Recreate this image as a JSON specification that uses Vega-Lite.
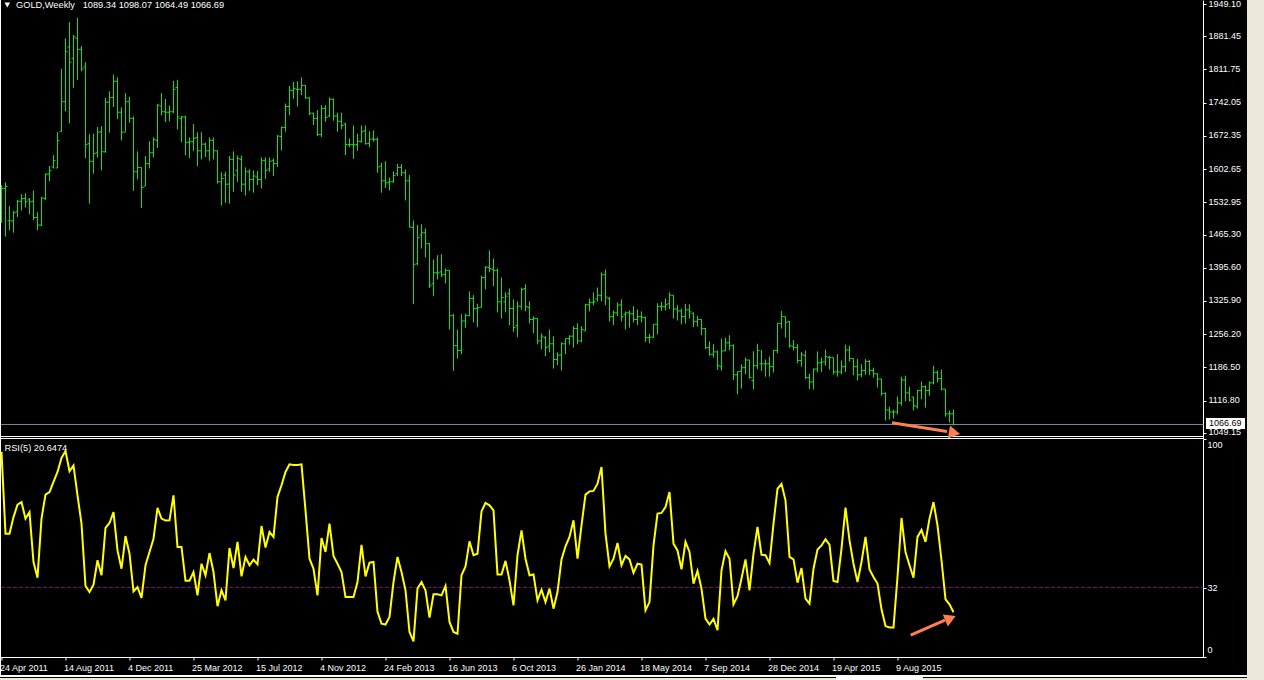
{"$schema":"https://vega.github.io/schema/vega-lite/v6.json","width":1264,"height":680,"autosize":{"type":"none"},"padding":0,"background":"#000000","config":{"view":{"stroke":null},"timeFormat":"%-d %b %Y","text":{"font":"Liberation Sans","fontSize":9}},"datasets":{"bars":[
{"d":"2011-04-24","o":1510,"h":1569,"l":1490,"c":1562,"r":94.2},{"d":"2011-05-01","o":1562,"h":1575,"l":1461,"c":1566,"r":56.7},{"d":"2011-05-08","o":1494,"h":1525,"l":1474,"c":1494,"r":56.7},{"d":"2011-05-15","o":1494,"h":1515,"l":1469,"c":1511,"r":64.3},{"d":"2011-05-22","o":1513,"h":1538,"l":1502,"c":1535,"r":70.0},{"d":"2011-05-29","o":1535,"h":1550,"l":1516,"c":1541,"r":71.2},{"d":"2011-06-05","o":1541,"h":1552,"l":1522,"c":1534,"r":63.6},{"d":"2011-06-12","o":1538,"h":1542,"l":1508,"c":1534,"r":66.6},{"d":"2011-06-19","o":1535,"h":1558,"l":1495,"c":1501,"r":43.7},{"d":"2011-06-26","o":1501,"h":1512,"l":1474,"c":1485,"r":36.5},
{"d":"2011-07-03","o":1485,"h":1544,"l":1483,"c":1542,"r":63.6},{"d":"2011-07-10","o":1541,"h":1594,"l":1538,"c":1592,"r":74.6},{"d":"2011-07-17","o":1592,"h":1609,"l":1577,"c":1600,"r":75.8},{"d":"2011-07-24","o":1607,"h":1632,"l":1604,"c":1621,"r":80.4},{"d":"2011-07-31","o":1605,"h":1680,"l":1605,"c":1663,"r":85.0},{"d":"2011-08-07","o":1681,"h":1813,"l":1681,"c":1744,"r":91.4},{"d":"2011-08-14","o":1744,"h":1877,"l":1724,"c":1849,"r":94.6},{"d":"2011-08-21","o":1859,"h":1911,"l":1699,"c":1827,"r":85.3},{"d":"2011-08-28","o":1835,"h":1884,"l":1773,"c":1880,"r":88.0},{"d":"2011-09-04","o":1877,"h":1920,"l":1790,"c":1854,"r":74.3},
{"d":"2011-09-11","o":1854,"h":1861,"l":1808,"c":1813,"r":61.3},{"d":"2011-09-18","o":1817,"h":1827,"l":1626,"c":1654,"r":32.7},{"d":"2011-09-25","o":1656,"h":1676,"l":1530,"c":1619,"r":29.9},{"d":"2011-10-02","o":1619,"h":1677,"l":1593,"c":1635,"r":33.3},{"d":"2011-10-09","o":1637,"h":1691,"l":1627,"c":1680,"r":44.5},{"d":"2011-10-16","o":1681,"h":1693,"l":1600,"c":1639,"r":37.6},{"d":"2011-10-23","o":1639,"h":1752,"l":1637,"c":1743,"r":59.3},{"d":"2011-10-30","o":1743,"h":1766,"l":1679,"c":1753,"r":61.6},{"d":"2011-11-06","o":1753,"h":1801,"l":1733,"c":1787,"r":66.6},{"d":"2011-11-13","o":1787,"h":1795,"l":1708,"c":1722,"r":49.0},
{"d":"2011-11-20","o":1722,"h":1732,"l":1663,"c":1680,"r":40.6},{"d":"2011-11-27","o":1680,"h":1762,"l":1681,"c":1744,"r":55.6},{"d":"2011-12-04","o":1744,"h":1754,"l":1700,"c":1709,"r":47.5},{"d":"2011-12-11","o":1709,"h":1713,"l":1557,"c":1597,"r":30.2},{"d":"2011-12-18","o":1597,"h":1640,"l":1581,"c":1606,"r":32.2},{"d":"2011-12-25","o":1606,"h":1606,"l":1521,"c":1564,"r":27.2},{"d":"2012-01-01","o":1567,"h":1630,"l":1567,"c":1614,"r":42.2},{"d":"2012-01-08","o":1614,"h":1661,"l":1604,"c":1637,"r":48.3},{"d":"2012-01-15","o":1637,"h":1669,"l":1627,"c":1665,"r":54.4},{"d":"2012-01-22","o":1663,"h":1739,"l":1647,"c":1737,"r":68.5},
{"d":"2012-01-29","o":1735,"h":1762,"l":1715,"c":1723,"r":63.6},{"d":"2012-02-05","o":1723,"h":1750,"l":1701,"c":1722,"r":62.7},{"d":"2012-02-12","o":1722,"h":1736,"l":1703,"c":1723,"r":62.8},{"d":"2012-02-19","o":1723,"h":1788,"l":1720,"c":1770,"r":74.3},{"d":"2012-02-26","o":1774,"h":1790,"l":1686,"c":1712,"r":50.6},{"d":"2012-03-04","o":1709,"h":1714,"l":1659,"c":1712,"r":50.6},{"d":"2012-03-11","o":1712,"h":1715,"l":1632,"c":1659,"r":35.1},{"d":"2012-03-18","o":1659,"h":1669,"l":1626,"c":1660,"r":35.1},{"d":"2012-03-25","o":1660,"h":1697,"l":1641,"c":1667,"r":39.1},{"d":"2012-04-01","o":1669,"h":1680,"l":1609,"c":1641,"r":28.4},
{"d":"2012-04-08","o":1641,"h":1680,"l":1623,"c":1655,"r":42.9},{"d":"2012-04-15","o":1655,"h":1658,"l":1628,"c":1641,"r":37.6},{"d":"2012-04-22","o":1641,"h":1669,"l":1620,"c":1663,"r":47.8},{"d":"2012-04-29","o":1663,"h":1669,"l":1623,"c":1641,"r":39.1},{"d":"2012-05-06","o":1641,"h":1642,"l":1572,"c":1576,"r":23.4},{"d":"2012-05-13","o":1576,"h":1596,"l":1526,"c":1583,"r":30.7},{"d":"2012-05-20","o":1590,"h":1597,"l":1532,"c":1571,"r":26.1},{"d":"2012-05-27","o":1571,"h":1630,"l":1530,"c":1623,"r":50.1},{"d":"2012-06-03","o":1623,"h":1640,"l":1555,"c":1590,"r":40.9},{"d":"2012-06-10","o":1600,"h":1631,"l":1576,"c":1625,"r":52.9},
{"d":"2012-06-17","o":1623,"h":1631,"l":1555,"c":1571,"r":37.1},{"d":"2012-06-24","o":1571,"h":1606,"l":1547,"c":1597,"r":46.0},{"d":"2012-07-01","o":1597,"h":1602,"l":1557,"c":1581,"r":42.2},{"d":"2012-07-08","o":1581,"h":1600,"l":1553,"c":1588,"r":44.8},{"d":"2012-07-15","o":1586,"h":1599,"l":1569,"c":1581,"r":42.6},{"d":"2012-07-22","o":1581,"h":1627,"l":1562,"c":1621,"r":60.2},{"d":"2012-07-29","o":1621,"h":1627,"l":1582,"c":1600,"r":50.3},{"d":"2012-08-05","o":1603,"h":1627,"l":1597,"c":1619,"r":57.5},{"d":"2012-08-12","o":1621,"h":1625,"l":1588,"c":1614,"r":55.2},{"d":"2012-08-19","o":1614,"h":1674,"l":1607,"c":1672,"r":73.5},
{"d":"2012-08-26","o":1671,"h":1692,"l":1642,"c":1690,"r":78.9},{"d":"2012-09-02","o":1690,"h":1740,"l":1681,"c":1734,"r":85.0},{"d":"2012-09-09","o":1734,"h":1777,"l":1716,"c":1768,"r":88.5},{"d":"2012-09-16","o":1768,"h":1786,"l":1750,"c":1772,"r":88.2},{"d":"2012-09-23","o":1770,"h":1787,"l":1734,"c":1770,"r":88.2},{"d":"2012-09-30","o":1770,"h":1795,"l":1758,"c":1778,"r":88.5},{"d":"2012-10-07","o":1778,"h":1779,"l":1750,"c":1752,"r":67.4},{"d":"2012-10-14","o":1752,"h":1753,"l":1716,"c":1720,"r":45.2},{"d":"2012-10-21","o":1720,"h":1721,"l":1695,"c":1709,"r":40.6},{"d":"2012-10-28","o":1709,"h":1727,"l":1672,"c":1675,"r":28.4},
{"d":"2012-11-04","o":1675,"h":1737,"l":1670,"c":1730,"r":54.7},{"d":"2012-11-11","o":1730,"h":1737,"l":1702,"c":1711,"r":48.3},{"d":"2012-11-18","o":1714,"h":1753,"l":1712,"c":1749,"r":61.3},{"d":"2012-11-25","o":1749,"h":1751,"l":1704,"c":1714,"r":46.5},{"d":"2012-12-02","o":1714,"h":1721,"l":1681,"c":1703,"r":42.9},{"d":"2012-12-09","o":1703,"h":1721,"l":1686,"c":1694,"r":39.1},{"d":"2012-12-16","o":1697,"h":1700,"l":1632,"c":1654,"r":27.6},{"d":"2012-12-23","o":1654,"h":1667,"l":1649,"c":1654,"r":27.6},{"d":"2012-12-30","o":1654,"h":1694,"l":1624,"c":1654,"r":27.6},{"d":"2013-01-06","o":1654,"h":1677,"l":1641,"c":1661,"r":34.5},
{"d":"2013-01-13","o":1661,"h":1694,"l":1658,"c":1681,"r":51.6},{"d":"2013-01-20","o":1683,"h":1694,"l":1654,"c":1656,"r":37.1},{"d":"2013-01-27","o":1656,"h":1682,"l":1649,"c":1665,"r":43.4},{"d":"2013-02-03","o":1666,"h":1684,"l":1660,"c":1665,"r":43.7},{"d":"2013-02-10","o":1665,"h":1669,"l":1595,"c":1607,"r":20.8},{"d":"2013-02-17","o":1609,"h":1616,"l":1553,"c":1578,"r":15.4},{"d":"2013-02-24","o":1578,"h":1619,"l":1563,"c":1574,"r":15.0},{"d":"2013-03-03","o":1574,"h":1585,"l":1558,"c":1576,"r":18.5},{"d":"2013-03-10","o":1576,"h":1598,"l":1574,"c":1589,"r":34.5},{"d":"2013-03-17","o":1593,"h":1614,"l":1588,"c":1606,"r":46.0},
{"d":"2013-03-24","o":1606,"h":1613,"l":1588,"c":1595,"r":39.1},{"d":"2013-03-31","o":1595,"h":1602,"l":1537,"c":1578,"r":30.7},{"d":"2013-04-07","o":1578,"h":1590,"l":1480,"c":1481,"r":11.6},{"d":"2013-04-14","o":1480,"h":1495,"l":1319,"c":1402,"r":7.3},{"d":"2013-04-21","o":1404,"h":1485,"l":1401,"c":1459,"r":31.5},{"d":"2013-04-28","o":1464,"h":1487,"l":1436,"c":1469,"r":34.5},{"d":"2013-05-05","o":1469,"h":1478,"l":1417,"c":1446,"r":30.7},{"d":"2013-05-12","o":1446,"h":1448,"l":1353,"c":1359,"r":18.2},{"d":"2013-05-19","o":1362,"h":1413,"l":1336,"c":1385,"r":28.9},{"d":"2013-05-26","o":1385,"h":1422,"l":1371,"c":1385,"r":28.9},
{"d":"2013-06-02","o":1387,"h":1424,"l":1376,"c":1381,"r":28.4},{"d":"2013-06-09","o":1381,"h":1394,"l":1363,"c":1390,"r":32.7},{"d":"2013-06-16","o":1390,"h":1390,"l":1266,"c":1295,"r":16.2},{"d":"2013-06-23","o":1295,"h":1299,"l":1179,"c":1232,"r":11.6},{"d":"2013-06-30","o":1232,"h":1266,"l":1205,"c":1222,"r":10.8},{"d":"2013-07-07","o":1222,"h":1298,"l":1214,"c":1284,"r":37.6},{"d":"2013-07-14","o":1284,"h":1299,"l":1269,"c":1295,"r":41.7},{"d":"2013-07-21","o":1295,"h":1346,"l":1294,"c":1331,"r":53.2},{"d":"2013-07-28","o":1331,"h":1338,"l":1281,"c":1310,"r":46.8},{"d":"2013-08-04","o":1310,"h":1320,"l":1271,"c":1312,"r":47.5},
{"d":"2013-08-11","o":1313,"h":1379,"l":1312,"c":1375,"r":66.9},{"d":"2013-08-18","o":1375,"h":1399,"l":1350,"c":1397,"r":70.8},{"d":"2013-08-25","o":1396,"h":1432,"l":1386,"c":1394,"r":69.7},{"d":"2013-09-01","o":1392,"h":1415,"l":1357,"c":1390,"r":67.4},{"d":"2013-09-08","o":1390,"h":1394,"l":1302,"c":1324,"r":38.0},{"d":"2013-09-15","o":1324,"h":1375,"l":1289,"c":1333,"r":38.0},{"d":"2013-09-22","o":1324,"h":1344,"l":1302,"c":1336,"r":44.2},{"d":"2013-09-29","o":1341,"h":1352,"l":1275,"c":1310,"r":35.3},{"d":"2013-10-06","o":1310,"h":1329,"l":1261,"c":1270,"r":23.8},{"d":"2013-10-13","o":1274,"h":1325,"l":1250,"c":1315,"r":46.8},
{"d":"2013-10-20","o":1315,"h":1354,"l":1308,"c":1350,"r":58.2},{"d":"2013-10-27","o":1352,"h":1361,"l":1304,"c":1314,"r":45.2},{"d":"2013-11-03","o":1312,"h":1325,"l":1279,"c":1287,"r":37.6},{"d":"2013-11-10","o":1287,"h":1294,"l":1258,"c":1289,"r":38.0},{"d":"2013-11-17","o":1289,"h":1289,"l":1235,"c":1242,"r":26.1},{"d":"2013-11-24","o":1242,"h":1258,"l":1224,"c":1252,"r":31.0},{"d":"2013-12-01","o":1249,"h":1252,"l":1210,"c":1228,"r":25.3},{"d":"2013-12-08","o":1231,"h":1266,"l":1218,"c":1236,"r":31.5},{"d":"2013-12-15","o":1236,"h":1252,"l":1184,"c":1203,"r":22.3},{"d":"2013-12-22","o":1203,"h":1218,"l":1191,"c":1212,"r":29.9},
{"d":"2013-12-29","o":1213,"h":1239,"l":1180,"c":1236,"r":44.9},{"d":"2014-01-05","o":1236,"h":1247,"l":1214,"c":1247,"r":50.9},{"d":"2014-01-12","o":1247,"h":1254,"l":1234,"c":1252,"r":55.2},{"d":"2014-01-19","o":1252,"h":1273,"l":1228,"c":1268,"r":62.8},{"d":"2014-01-26","o":1268,"h":1279,"l":1235,"c":1242,"r":45.2},{"d":"2014-02-02","o":1242,"h":1273,"l":1239,"c":1266,"r":60.5},{"d":"2014-02-09","o":1263,"h":1320,"l":1263,"c":1318,"r":74.6},{"d":"2014-02-16","o":1318,"h":1331,"l":1304,"c":1323,"r":76.1},{"d":"2014-02-23","o":1323,"h":1344,"l":1317,"c":1324,"r":76.3},{"d":"2014-03-02","o":1330,"h":1354,"l":1325,"c":1338,"r":79.6},
{"d":"2014-03-09","o":1337,"h":1386,"l":1325,"c":1381,"r":87.3},{"d":"2014-03-16","o":1381,"h":1392,"l":1317,"c":1334,"r":56.7},{"d":"2014-03-23","o":1331,"h":1334,"l":1283,"c":1293,"r":41.7},{"d":"2014-03-30","o":1293,"h":1306,"l":1275,"c":1301,"r":45.2},{"d":"2014-04-06","o":1301,"h":1323,"l":1294,"c":1317,"r":52.4},{"d":"2014-04-13","o":1318,"h":1329,"l":1283,"c":1293,"r":42.2},{"d":"2014-04-20","o":1298,"h":1304,"l":1266,"c":1301,"r":46.5},{"d":"2014-04-27","o":1301,"h":1306,"l":1270,"c":1299,"r":44.9},{"d":"2014-05-04","o":1299,"h":1315,"l":1281,"c":1287,"r":38.7},{"d":"2014-05-11","o":1287,"h":1308,"l":1275,"c":1293,"r":42.9},
{"d":"2014-05-18","o":1293,"h":1304,"l":1281,"c":1291,"r":42.5},{"d":"2014-05-25","o":1291,"h":1293,"l":1240,"c":1249,"r":21.5},{"d":"2014-06-01","o":1249,"h":1257,"l":1237,"c":1250,"r":25.3},{"d":"2014-06-08","o":1250,"h":1277,"l":1248,"c":1277,"r":51.3},{"d":"2014-06-15","o":1277,"h":1321,"l":1256,"c":1314,"r":65.9},{"d":"2014-06-22","o":1314,"h":1324,"l":1305,"c":1314,"r":66.2},{"d":"2014-06-29","o":1314,"h":1331,"l":1306,"c":1318,"r":68.9},{"d":"2014-07-06","o":1320,"h":1344,"l":1309,"c":1338,"r":75.8},{"d":"2014-07-13","o":1338,"h":1338,"l":1289,"c":1309,"r":52.1},{"d":"2014-07-20","o":1309,"h":1317,"l":1285,"c":1305,"r":49.0},
{"d":"2014-07-27","o":1305,"h":1310,"l":1277,"c":1293,"r":40.3},{"d":"2014-08-03","o":1293,"h":1320,"l":1279,"c":1307,"r":52.9},{"d":"2014-08-10","o":1307,"h":1319,"l":1289,"c":1303,"r":48.3},{"d":"2014-08-17","o":1300,"h":1302,"l":1271,"c":1283,"r":33.8},{"d":"2014-08-24","o":1283,"h":1295,"l":1272,"c":1287,"r":39.6},{"d":"2014-08-31","o":1287,"h":1288,"l":1254,"c":1268,"r":31.5},{"d":"2014-09-07","o":1268,"h":1269,"l":1225,"c":1228,"r":17.7},{"d":"2014-09-14","o":1228,"h":1241,"l":1211,"c":1214,"r":15.0},{"d":"2014-09-21","o":1214,"h":1235,"l":1207,"c":1219,"r":17.6},{"d":"2014-09-28","o":1219,"h":1222,"l":1181,"c":1190,"r":12.4},
{"d":"2014-10-05","o":1188,"h":1247,"l":1180,"c":1221,"r":39.9},{"d":"2014-10-12","o":1221,"h":1249,"l":1221,"c":1238,"r":48.7},{"d":"2014-10-19","o":1238,"h":1254,"l":1222,"c":1232,"r":45.2},{"d":"2014-10-26","o":1232,"h":1235,"l":1160,"c":1171,"r":24.3},{"d":"2014-11-02","o":1171,"h":1178,"l":1130,"c":1178,"r":28.0},{"d":"2014-11-09","o":1178,"h":1193,"l":1142,"c":1186,"r":36.1},{"d":"2014-11-16","o":1186,"h":1207,"l":1172,"c":1202,"r":44.9},{"d":"2014-11-23","o":1202,"h":1202,"l":1163,"c":1165,"r":30.7},{"d":"2014-11-30","o":1159,"h":1220,"l":1140,"c":1190,"r":47.5},{"d":"2014-12-07","o":1190,"h":1236,"l":1183,"c":1222,"r":59.8},
{"d":"2014-12-14","o":1194,"h":1223,"l":1179,"c":1194,"r":47.0},{"d":"2014-12-21","o":1194,"h":1203,"l":1167,"c":1194,"r":46.8},{"d":"2014-12-28","o":1194,"h":1209,"l":1167,"c":1188,"r":43.2},{"d":"2015-01-04","o":1188,"h":1223,"l":1176,"c":1222,"r":61.3},{"d":"2015-01-11","o":1222,"h":1280,"l":1216,"c":1279,"r":77.3},{"d":"2015-01-18","o":1279,"h":1305,"l":1268,"c":1293,"r":79.5},{"d":"2015-01-25","o":1293,"h":1293,"l":1249,"c":1281,"r":72.0},{"d":"2015-02-01","o":1283,"h":1284,"l":1228,"c":1232,"r":46.0},{"d":"2015-02-08","o":1230,"h":1244,"l":1222,"c":1228,"r":44.9},{"d":"2015-02-15","o":1228,"h":1236,"l":1195,"c":1201,"r":34.2},
{"d":"2015-02-22","o":1201,"h":1219,"l":1188,"c":1213,"r":40.9},{"d":"2015-03-01","o":1211,"h":1222,"l":1162,"c":1165,"r":26.9},{"d":"2015-03-08","o":1165,"h":1173,"l":1141,"c":1156,"r":24.6},{"d":"2015-03-15","o":1156,"h":1184,"l":1140,"c":1183,"r":40.6},{"d":"2015-03-22","o":1183,"h":1220,"l":1176,"c":1196,"r":49.4},{"d":"2015-03-29","o":1196,"h":1207,"l":1177,"c":1198,"r":51.3},{"d":"2015-04-05","o":1198,"h":1224,"l":1190,"c":1209,"r":54.1},{"d":"2015-04-12","o":1207,"h":1211,"l":1182,"c":1207,"r":51.7},{"d":"2015-04-19","o":1207,"h":1207,"l":1172,"c":1177,"r":35.0},{"d":"2015-04-26","o":1177,"h":1214,"l":1167,"c":1177,"r":34.5},
{"d":"2015-05-03","o":1177,"h":1201,"l":1172,"c":1188,"r":49.8},{"d":"2015-05-10","o":1188,"h":1234,"l":1177,"c":1223,"r":68.6},{"d":"2015-05-17","o":1223,"h":1232,"l":1199,"c":1205,"r":53.6},{"d":"2015-05-24","o":1205,"h":1205,"l":1170,"c":1188,"r":42.9},{"d":"2015-05-31","o":1188,"h":1204,"l":1159,"c":1171,"r":34.5},{"d":"2015-06-07","o":1171,"h":1193,"l":1166,"c":1180,"r":43.7},{"d":"2015-06-14","o":1180,"h":1204,"l":1171,"c":1199,"r":55.2},{"d":"2015-06-21","o":1199,"h":1202,"l":1170,"c":1180,"r":40.3},{"d":"2015-06-28","o":1180,"h":1186,"l":1165,"c":1173,"r":36.8},{"d":"2015-07-05","o":1173,"h":1174,"l":1144,"c":1162,"r":33.8},
{"d":"2015-07-12","o":1162,"h":1163,"l":1127,"c":1132,"r":22.0},{"d":"2015-07-19","o":1132,"h":1134,"l":1075,"c":1097,"r":14.3},{"d":"2015-07-26","o":1097,"h":1104,"l":1077,"c":1093,"r":13.7},{"d":"2015-08-02","o":1093,"h":1098,"l":1079,"c":1093,"r":13.7},{"d":"2015-08-09","o":1093,"h":1125,"l":1088,"c":1112,"r":36.8},{"d":"2015-08-16","o":1112,"h":1167,"l":1106,"c":1160,"r":63.9},{"d":"2015-08-23","o":1160,"h":1169,"l":1115,"c":1133,"r":48.3},{"d":"2015-08-30","o":1133,"h":1146,"l":1115,"c":1118,"r":42.2},{"d":"2015-09-06","o":1124,"h":1125,"l":1096,"c":1106,"r":36.5},{"d":"2015-09-13","o":1104,"h":1139,"l":1100,"c":1138,"r":55.2},
{"d":"2015-09-20","o":1138,"h":1157,"l":1120,"c":1146,"r":58.4},{"d":"2015-09-27","o":1146,"h":1149,"l":1102,"c":1138,"r":52.9},{"d":"2015-10-04","o":1138,"h":1157,"l":1127,"c":1154,"r":63.6},{"d":"2015-10-11","o":1154,"h":1190,"l":1151,"c":1176,"r":71.2},{"d":"2015-10-18","o":1176,"h":1180,"l":1155,"c":1163,"r":60.5},{"d":"2015-10-25","o":1163,"h":1182,"l":1138,"c":1141,"r":44.5},{"d":"2015-11-01","o":1141,"h":1141,"l":1083,"c":1089,"r":26.6},{"d":"2015-11-08","o":1089,"h":1096,"l":1071,"c":1089,"r":24.3},{"d":"2015-11-15","o":1089.34,"h":1098.07,"l":1064.49,"c":1066.69,"r":20.6474}
],
"frame":[
{"part":"beige","x":"2017-04-11T15:00:00Z","x2":"2017-05-11T09:00:00Z","y":1957.5,"y2":530.5},
{"part":"white","x":"2011-04-21T09:00:00Z","x2":"2017-04-11T15:00:00Z","y":541,"y2":536.8},
{"part":"white","x":"2015-04-23T09:00:00Z","x2":"2015-09-22T15:00:00Z","y":536.8,"y2":530.5},
{"part":"beige","x":"2011-04-21T09:00:00Z","x2":"2015-04-23T09:00:00Z","y":534.7,"y2":530.5},
{"part":"beige","x":"2015-09-22T15:00:00Z","x2":"2017-05-11T09:00:00Z","y":534.7,"y2":530.5},
{"part":"white","x":"2011-04-21T09:00:00Z","x2":"2011-04-23T03:00:00Z","y":1957.5,"y2":541},
{"part":"white","x":"2017-01-29T21:00:00Z","x2":"2017-04-08T03:00:00Z","y":1080.3,"y2":1057.3}
],
"mainRules":[
{"kind":"last","s":"2011-04-23T03:00:00Z","e":"2017-01-25T12:00:00Z","p":1066.69},
{"kind":"border","s":"2011-04-23T03:00:00Z","e":"2017-01-25T12:00:00Z","p":1041.45}
],
"arrowTop":[{"d":"2015-07-30T09:00:00Z","p":1070.4},{"d":"2015-11-03T15:00:00Z","p":1052}],
"arrowBottom":[{"d":"2015-09-01T03:00:00Z","v":10.1},{"d":"2015-10-31T03:00:00Z","v":17}],
"labels":[{"d":"2011-05-19T09:00:00Z","p":1948,"t":"GOLD,Weekly\u00a0\u00a0\u00a01089.34 1098.07 1064.49 1066.69"}]
},
"layer":[
{"layer":[
{"data":{"name":"bars"},"mark":{"type":"rule","color":"#0ae60a","strokeWidth":1},"encoding":{"x":{"field":"d","type":"temporal","title":null,"scale":{"type":"utc","domain":["2011-04-23T03:00:00Z","2017-01-26T09:00:00Z"],"range":[1,1204],"nice":false},"axis":{"orient":"bottom","offset":-22.5,"translate":0,"values":["2011-04-24","2011-08-14","2011-12-04","2012-03-25","2012-07-15","2012-11-04","2013-02-24","2013-06-16","2013-10-06","2014-01-26","2014-05-18","2014-09-07","2014-12-28","2015-04-19","2015-08-09"],"labelExpr":"utcFormat(datum.value, '%-d %b %Y')","grid":false,"domainColor":"#ffffff","tickColor":"#ffffff","tickSize":3,"labelColor":"#ffffff","labelFont":"Liberation Sans","labelFontSize":9,"labelAlign":"left","labelOffset":-1.5,"labelPadding":3,"labelOverlap":false,"labelBound":false,"labelFlush":false}},"y":{"field":"l","type":"quantitative","title":null,"scale":{"domain":[1042.5,1957.5],"range":[436,0],"nice":false,"zero":false},"axis":{"orient":"right","offset":-61,"values":[1949.1,1881.45,1811.75,1742.05,1672.35,1602.65,1532.95,1465.3,1395.6,1325.9,1256.2,1186.5,1116.8,1049.15],"format":".2f","grid":false,"domainColor":"#ffffff","tickColor":"#ffffff","tickSize":3,"labelColor":"#ffffff","labelFont":"Liberation Sans","labelFontSize":9,"labelPadding":2,"labelOffset":-1,"labelOverlap":false,"labelBound":false,"labelFlush":false}},"y2":{"field":"h"}}},
{"data":{"name":"bars"},"mark":{"type":"tick","orient":"horizontal","size":2,"thickness":1,"xOffset":-1,"color":"#0ae60a","opacity":1},"encoding":{"x":{"field":"d","type":"temporal","title":null},"y":{"field":"o","type":"quantitative","title":null}}},
{"data":{"name":"bars"},"mark":{"type":"tick","orient":"horizontal","size":2,"thickness":1,"xOffset":1,"color":"#0ae60a","opacity":1},"encoding":{"x":{"field":"d","type":"temporal","title":null},"y":{"field":"c","type":"quantitative","title":null}}},
{"data":{"name":"frame"},"mark":{"type":"rect","clip":false},"encoding":{"x":{"field":"x","type":"temporal","title":null},"x2":{"field":"x2"},"y":{"field":"y","type":"quantitative","title":null},"y2":{"field":"y2"},"color":{"field":"part","type":"nominal","legend":null,"scale":{"domain":["beige","white"],"range":["#ece9d8","#ffffff"]}}}},
{"data":{"name":"mainRules"},"transform":[{"filter":"datum.kind==='last'"}],"mark":{"type":"rule","color":"#778899","strokeWidth":1},"encoding":{"x":{"field":"s","type":"temporal","title":null},"x2":{"field":"e"},"y":{"field":"p","type":"quantitative","title":null}}},
{"data":{"name":"mainRules"},"transform":[{"filter":"datum.kind==='border'"}],"mark":{"type":"rule","color":"#ffffff","strokeWidth":1},"encoding":{"x":{"field":"s","type":"temporal","title":null},"x2":{"field":"e"},"y":{"field":"p","type":"quantitative","title":null}}},
{"data":{"values":[{"d":"2017-02-04T03:00:00Z","p":1068.8,"t":"1066.69"}]},"mark":{"type":"text","align":"left","baseline":"middle","color":"#000000","font":"Liberation Sans","fontSize":9},"encoding":{"x":{"field":"d","type":"temporal","title":null},"y":{"field":"p","type":"quantitative","title":null},"text":{"field":"t"}}},
{"data":{"name":"labels"},"mark":{"type":"text","align":"left","baseline":"middle","color":"#ffffff","font":"Liberation Sans","fontSize":9.25},"encoding":{"x":{"field":"d","type":"temporal","title":null},"y":{"field":"p","type":"quantitative","title":null},"text":{"field":"t"}}},
{"data":{"values":[{"d":"2011-05-04T03:00:00Z","p":1947}]},"mark":{"type":"point","shape":"triangle-down","filled":true,"color":"#ffffff","size":32,"opacity":1},"encoding":{"x":{"field":"d","type":"temporal","title":null},"y":{"field":"p","type":"quantitative","title":null}}},
{"data":{"name":"arrowTop"},"mark":{"type":"line","color":"#ff7f50","strokeWidth":3,"clip":false},"encoding":{"x":{"field":"d","type":"temporal","title":null},"y":{"field":"p","type":"quantitative","title":null}}},
{"data":{"values":[{"d":"2015-11-16T18:00:00Z","p":1048.8}]},"mark":{"type":"point","shape":"triangle-right","filled":true,"color":"#ff7f50","size":170,"opacity":1,"angle":10,"clip":false},"encoding":{"x":{"field":"d","type":"temporal","title":null},"y":{"field":"p","type":"quantitative","title":null}}}
]},
{"layer":[
{"data":{"values":[{"s":"2011-04-23T03:00:00Z","e":"2017-01-25T12:00:00Z","v":100.35}]},"mark":{"type":"rule","color":"#ffffff","strokeWidth":1},"encoding":{"x":{"field":"s","type":"temporal","title":null},"x2":{"field":"e"},"y":{"field":"v","type":"quantitative","title":null,"scale":{"domain":[0,100],"range":[657.26,439.26],"nice":false,"zero":false},"axis":{"orient":"right","offset":-61,"values":[0,32,100],"format":"d","grid":false,"domainColor":"#ffffff","tickColor":"#ffffff","tickSize":3,"labelColor":"#ffffff","labelFont":"Liberation Sans","labelFontSize":9,"labelPadding":1,"labelOffset":-0.5,"labelOverlap":false,"labelBound":false,"labelFlush":true,"labelFlushOffset":-2}}}},
{"data":{"values":[{"s":"2017-01-25T12:00:00Z","v":100,"v2":101.27}]},"mark":{"type":"rule","color":"#ffffff","strokeWidth":1,"clip":false},"encoding":{"x":{"field":"s","type":"temporal","title":null},"y":{"field":"v","type":"quantitative","title":null},"y2":{"field":"v2"}}},
{"data":{"values":[{"s":"2011-04-23T03:00:00Z","e":"2017-01-25T12:00:00Z","v":32}]},"mark":{"type":"rule","color":"#800080","strokeWidth":1,"strokeDash":[4,2]},"encoding":{"x":{"field":"s","type":"temporal","title":null},"x2":{"field":"e"},"y":{"field":"v","type":"quantitative","title":null}}},
{"data":{"name":"bars"},"mark":{"type":"line","color":"#ffff00","strokeWidth":2,"strokeJoin":"miter"},"encoding":{"x":{"field":"d","type":"temporal","title":null},"y":{"field":"r","type":"quantitative","title":null}}},
{"data":{"values":[{"d":"2011-04-29T06:00:00Z","v":96.1,"t":"RSI(5) 20.6474"}]},"mark":{"type":"text","align":"left","baseline":"middle","color":"#ffffff","font":"Liberation Sans","fontSize":9.25},"encoding":{"x":{"field":"d","type":"temporal","title":null},"y":{"field":"v","type":"quantitative","title":null},"text":{"field":"t"}}},
{"data":{"name":"arrowBottom"},"mark":{"type":"line","color":"#ff7f50","strokeWidth":3},"encoding":{"x":{"field":"d","type":"temporal","title":null},"y":{"field":"v","type":"quantitative","title":null}}},
{"data":{"values":[{"d":"2015-11-09T18:00:00Z","v":17.9}]},"mark":{"type":"point","shape":"triangle-right","filled":true,"color":"#ff7f50","size":170,"opacity":1,"angle":336.5},"encoding":{"x":{"field":"d","type":"temporal","title":null},"y":{"field":"v","type":"quantitative","title":null}}}
]}
],
"resolve":{"scale":{"y":"independent"},"axis":{"y":"independent"}}}
